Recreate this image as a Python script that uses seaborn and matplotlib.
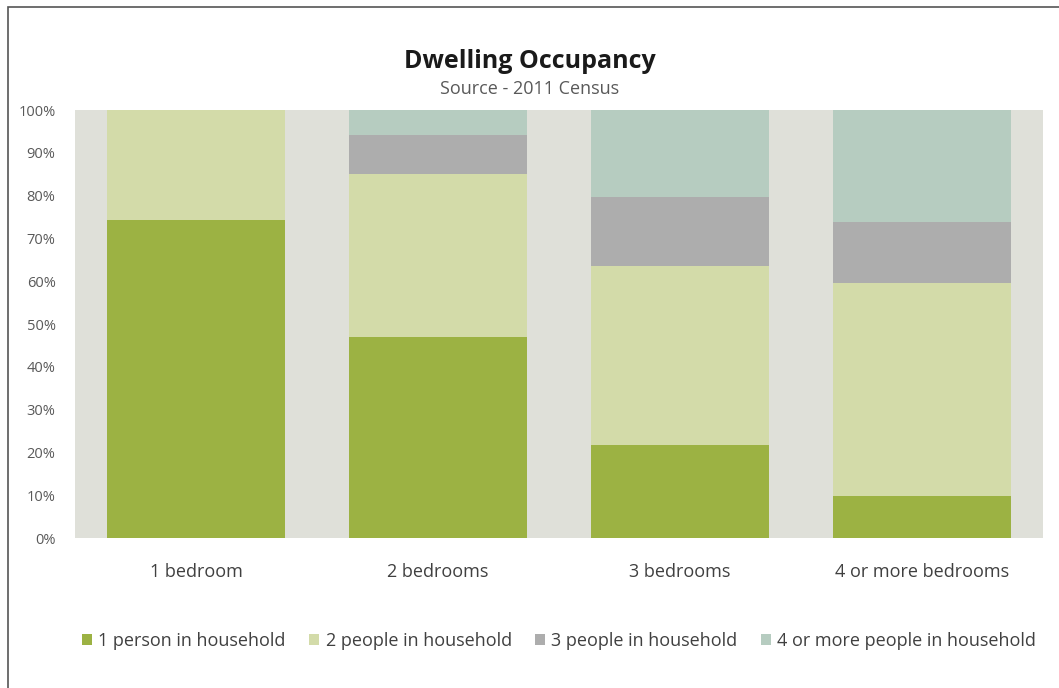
import pandas as pd
import seaborn as sns
import matplotlib.pyplot as plt
from matplotlib.patches import Patch, Rectangle

# values (percent of dwellings)
bedrooms = ['1 bedroom', '2 bedrooms', '3 bedrooms', '4 or more bedrooms']
series_names = ['1 person in household', '2 people in household',
                '3 people in household', '4 or more people in household']
one_person = [74.3, 47.0, 21.7, 9.8]
two_people = [25.7, 38.0, 41.9, 49.8]
three_people = [0.0, 9.2, 16.1, 14.2]
four_plus = [0.0, 5.8, 20.3, 26.2]
y_ticks = [0, 10, 20, 30, 40, 50, 60, 70, 80, 90, 100]

colors = ['#9cb243', '#d3dba9', '#adadad', '#b6ccc0']

df = pd.DataFrame({'bedrooms': bedrooms, 's1': one_person, 's2': two_people,
                   's3': three_people, 's4': four_plus})
# cumulative totals so the bars can be layered back to front
df['c1'] = df['s1']
df['c2'] = df['c1'] + df['s2']
df['c3'] = df['c2'] + df['s3']
df['c4'] = df['c3'] + df['s4']

sns.set_theme(style='white')
plt.rcParams['font.family'] = ['Open Sans', 'DejaVu Sans']

fig = plt.figure(figsize=(10.59, 6.88), dpi=100)
ax = fig.add_axes([0.0708, 0.218, 0.9142, 0.622])
ax.set_facecolor('#dfe0d9')

for col, c in zip(['c4', 'c3', 'c2', 'c1'], colors[::-1]):
    sns.barplot(data=df, x='bedrooms', y=col, color=c, width=0.735,
                saturation=1, linewidth=0, ax=ax)

ax.set_ylim(0, 100)
ax.set_xlim(-0.5, 3.5)
ax.set_yticks(y_ticks)
ax.set_yticklabels([f'{t}%' for t in y_ticks], fontsize=10.5, color='#595959')
ax.tick_params(axis='x', labelsize=13, colors='#404040', pad=18, length=0)
ax.tick_params(axis='y', length=0, pad=14)
ax.set_xlabel('')
ax.set_ylabel('')
for s in ax.spines.values():
    s.set_visible(False)

fig.text(0.5, 0.911, 'Dwelling Occupancy', ha='center', va='center',
         fontsize=18, fontweight='bold', color='#1a1a1a')
fig.text(0.5, 0.870, 'Source - 2011 Census', ha='center', va='center',
         fontsize=13, color='#595959')

handles = [Patch(facecolor=c, edgecolor='none') for c in colors]
fig.legend(handles, series_names, loc='center', bbox_to_anchor=(0.528, 0.069),
           ncol=4, frameon=False, fontsize=13, handlelength=0.55,
           handleheight=0.55, handletextpad=0.35, columnspacing=1.3,
           labelcolor='#404040')

# frame around the chart (right and bottom edges fall outside the image)
fig.patches.append(Rectangle((0.0076, -0.2), 1.2, 1.19, transform=fig.transFigure,
                             fill=False, edgecolor='#555555', linewidth=1.2))

fig.savefig('out.png', dpi=100, facecolor='white')
